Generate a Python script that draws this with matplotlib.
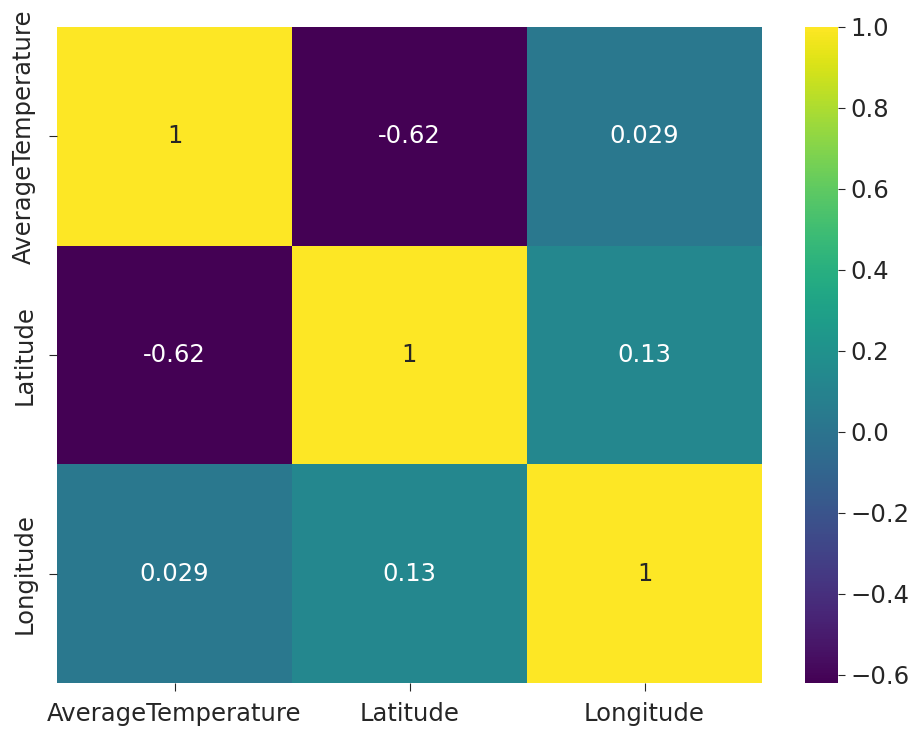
import numpy as np
import pandas as pd
import seaborn as sns
from matplotlib import pyplot as plt

labels = ["AverageTemperature", "Latitude", "Longitude"]
row_temp = [1.0, -0.62, 0.029]
row_lat = [-0.62, 1.0, 0.13]
row_lon = [0.029, 0.13, 1.0]

corr = pd.DataFrame([row_temp, row_lat, row_lon], index=labels, columns=labels)

fs = 17.5
plt.rcParams['font.size'] = fs
plt.rcParams['text.color'] = '#262626'
plt.rcParams['xtick.color'] = '#262626'
plt.rcParams['ytick.color'] = '#262626'
fig = plt.figure(figsize=(9.18, 7.29), dpi=100)
# heatmap axes and colorbar placed by hand to match the picture
ax = fig.add_axes([57/918, 1-683/729, 705/918, 656/729])
cax = fig.add_axes([805/918, 1-683/729, 33/918, 656/729])
sns.heatmap(corr, annot=True, cmap="viridis", ax=ax, cbar_ax=cax,
            annot_kws={"size": fs})
ax.tick_params(axis='x', labelsize=fs, length=6, pad=7.5)
ax.tick_params(axis='y', labelsize=fs, length=6, pad=9)
cax.tick_params(labelsize=fs, length=5, pad=4)
fig.savefig("out.png", dpi=100)
